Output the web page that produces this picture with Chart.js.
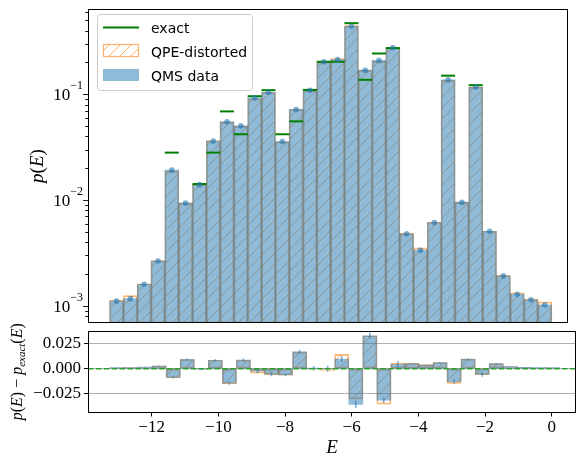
<!DOCTYPE html>
<html>
<head>
<meta charset="utf-8">
<script src="https://cdn.jsdelivr.net/npm/chart.js@4.4.1/dist/chart.umd.min.js"></script>
<style>
    body { margin: 0; background: #fff; }
    #cadre { position: relative; width: 577px; height: 460px; }
    #haut { position: absolute; left: 0; top: 0; }
    #bas { position: absolute; left: 0; top: 300px; }
</style>
</head>
<body>
<div id="cadre">
    <canvas id="haut" width="577" height="332"></canvas>
    <canvas id="bas" width="577" height="160"></canvas>
</div>
<script>
// centres des bins en E
const centres = [-13.039, -12.618, -12.197, -11.775, -11.354, -10.933, -10.511, -10.090,
    -9.669, -9.247, -8.826, -8.404, -7.983, -7.562, -7.140, -6.719,
    -6.298, -5.876, -5.455, -5.034, -4.612, -4.191, -3.770, -3.348,
    -2.927, -2.506, -2.084, -1.663, -1.241, -0.820, -0.399, 0.023];

const pQms = [0.00111, 0.00117, 0.00160, 0.00265, 0.0192, 0.0094, 0.0140, 0.0361,
    0.0551, 0.0503, 0.0925, 0.1043, 0.0357, 0.0719, 0.1090, 0.203,
    0.213, 0.439, 0.169, 0.209, 0.277, 0.00480, 0.00336, 0.00614,
    0.137, 0.00955, 0.117, 0.00508, 0.00192, 0.00129, 0.00114, 0.00102];

const pQpe = [0.00113, 0.00125, 0.00162, 0.00268, 0.0188, 0.0093, 0.0141, 0.0365,
    0.0543, 0.0501, 0.0905, 0.1038, 0.0355, 0.0717, 0.1085, 0.2013,
    0.218, 0.445, 0.169, 0.205, 0.278, 0.00485, 0.00353, 0.0062,
    0.1355, 0.0095, 0.1167, 0.00508, 0.00194, 0.00133, 0.00116, 0.00109];

const pExact = [null, null, null, null, 0.0281, null, 0.0142, 0.0281,
    0.0689, 0.0419, 0.0959, 0.1094, 0.0419, 0.0555, 0.110, 0.203,
    0.203, 0.470, 0.137, 0.243, 0.273, null, null, null,
    0.150, null, 0.122, null, null, null, null, null];

const diffQms = [0.0011, 0.0012, 0.0016, 0.0027, -0.0087, 0.0093, -0.0003, 0.0083,
    -0.0145, 0.0087, -0.0025, -0.0055, -0.0063, 0.0170, 0.0003, 0.0000,
    0.0097, -0.0360, 0.0330, -0.0317, 0.0043, 0.0050, 0.0035, 0.0060,
    -0.0130, 0.0095, -0.0057, 0.0050, 0.0020, 0.0013, 0.0012, 0.0010];

const diffQpe = [0.0012, 0.0013, 0.0017, 0.0028, -0.0093, 0.0092, -0.0002, 0.0087,
    -0.0153, 0.0085, -0.0045, -0.0060, -0.0065, 0.0168, -0.0008, -0.0017,
    0.0143, -0.0303, 0.0330, -0.0357, 0.0057, 0.0053, 0.0040, 0.0062,
    -0.0147, 0.0095, -0.0060, 0.0050, 0.0022, 0.0014, 0.0012, 0.0011];

const erreurs = [0.0002, 0.0002, 0.0003, 0.0004, 0.0010, 0.0008, 0.0009, 0.0013,
    0.0016, 0.0015, 0.0021, 0.0022, 0.0013, 0.0019, 0.0022, 0.0030,
    0.0030, 0.0035, 0.0027, 0.0030, 0.0034, 0.0005, 0.0004, 0.0006,
    0.0025, 0.0007, 0.0023, 0.0005, 0.0003, 0.0002, 0.0002, 0.0002];

const ticksX = [-12, -10, -8, -6, -4, -2, 0];
const ticksDiff = [-0.025, 0, 0.025];

const xMin = -13.91;
const xMax = 0.73;

const SERIF = "'Liberation Serif', 'DejaVu Serif', serif";
const BLEU = 'rgba(31,119,180,0.5)';
const ORANGE = 'rgba(255,127,14,0.6)';

function creerHachures(ctxCible) {
    const taille = 11;
    const c = document.createElement('canvas');
    c.width = taille;
    c.height = taille;
    const ctx = c.getContext('2d');
    ctx.strokeStyle = ORANGE;
    ctx.lineWidth = 1;
    ctx.beginPath();
    ctx.moveTo(0, taille);
    ctx.lineTo(taille, 0);
    ctx.moveTo(-2, 2);
    ctx.lineTo(2, -2);
    ctx.moveTo(taille - 2, taille + 2);
    ctx.lineTo(taille + 2, taille - 2);
    ctx.stroke();
    return ctxCible.createPattern(c, 'repeat');
}

// texte "math" : morceaux [texte, italique, taille, decalage]
function ecrireMath(ctx, morceaux, x, y, angle) {
    const police = (m) => (m[1] ? 'italic ' : '') + m[2] + 'px ' + SERIF;
    ctx.save();
    ctx.translate(x, y);
    ctx.rotate(angle);
    let total = 0;
    for (const m of morceaux) {
        ctx.font = police(m);
        total += ctx.measureText(m[0]).width;
    }
    let cx = -total / 2;
    ctx.fillStyle = '#000';
    ctx.textAlign = 'left';
    ctx.textBaseline = 'alphabetic';
    for (const m of morceaux) {
        ctx.font = police(m);
        ctx.fillText(m[0], cx, m[3]);
        cx += ctx.measureText(m[0]).width;
    }
    ctx.restore();
}

const cadrePlugin = {
    id: 'cadre',
    afterDraw(chart) {
        const { ctx, chartArea } = chart;
        ctx.save();
        ctx.strokeStyle = '#000';
        ctx.lineWidth = 1;
        const l = Math.round(chartArea.left) + 0.5;
        const t = Math.round(chartArea.top) + 0.5;
        const r = Math.round(chartArea.right) - 0.5;
        const b = Math.round(chartArea.bottom) - 0.5;
        ctx.strokeRect(l, t, r - l, b - t);
        ctx.restore();
    },
};

const axeLogPlugin = {
    id: 'axeLog',
    afterDraw(chart) {
        const { ctx, chartArea, scales } = chart;
        const y = scales.y;
        ctx.save();
        ctx.strokeStyle = '#000';
        ctx.lineWidth = 0.9;
        for (const t of y.ticks) {
            const v = t.value;
            const e = Math.floor(Math.log10(v) + 1e-9);
            const s = v / Math.pow(10, e);
            if (Math.abs(s - Math.round(s)) > 0.01) continue;
            const py = y.getPixelForValue(v);
            if (py < chartArea.top - 0.5 || py > chartArea.bottom + 0.5) continue;
            const majeur = Math.round(s) === 1;
            const long = majeur ? 4.9 : 2.8;
            ctx.beginPath();
            ctx.moveTo(chartArea.left - long, Math.round(py) + 0.5);
            ctx.lineTo(chartArea.left, Math.round(py) + 0.5);
            ctx.stroke();
            if (majeur) {
                const exp = '\u2212' + Math.abs(e);
                ctx.fillStyle = '#000';
                ctx.textBaseline = 'alphabetic';
                ctx.font = '12px ' + SERIF;
                const wExp = ctx.measureText(exp).width;
                ctx.font = '17px ' + SERIF;
                const wBase = ctx.measureText('10').width;
                const droite = chartArea.left - 5;
                ctx.fillText('10', droite - wExp - wBase, py + 6);
                ctx.font = '12px ' + SERIF;
                ctx.fillText(exp, droite - wExp, py - 5);
            }
        }
        ecrireMath(ctx, [['p', true, 19, 0], ['(', false, 19, 0], ['E', true, 19, 0], [')', false, 19, 0]],
            43, (chartArea.top + chartArea.bottom) / 2, -Math.PI / 2);
        ctx.restore();
    },
};

function legendePlugin(motif) {
    return {
        id: 'legende',
        afterDraw(chart) {
            const { ctx } = chart;
            ctx.save();
            ctx.beginPath();
            ctx.roundRect(97.5, 14.5, 155, 76, 3);
            ctx.fillStyle = 'rgba(255,255,255,0.8)';
            ctx.fill();
            ctx.strokeStyle = '#cccccc';
            ctx.lineWidth = 1;
            ctx.stroke();

            ctx.strokeStyle = '#008000';
            ctx.lineWidth = 2;
            ctx.beginPath();
            ctx.moveTo(103, 27.5);
            ctx.lineTo(139, 27.5);
            ctx.stroke();

            ctx.fillStyle = '#fff';
            ctx.fillRect(103.5, 44.5, 35, 12);
            ctx.fillStyle = motif;
            ctx.fillRect(103.5, 44.5, 35, 12);
            ctx.strokeStyle = ORANGE;
            ctx.lineWidth = 1.2;
            ctx.strokeRect(103.5, 44.5, 35, 12);

            ctx.fillStyle = BLEU;
            ctx.fillRect(103, 69, 36, 12);

            ctx.fillStyle = '#000';
            ctx.font = "14px 'DejaVu Sans', sans-serif";
            ctx.textBaseline = 'alphabetic';
            ctx.fillText('exact', 151, 33);
            ctx.fillText('QPE-distorted', 151, 56.5);
            ctx.fillText('QMS data', 151, 80.5);
            ctx.restore();
        },
    };
}

const barresCommunes = {
    grouped: false,
    barPercentage: 1,
    categoryPercentage: 1,
    borderSkipped: false,
};

// ---- panneau du haut : p(E) en log ----
const ctxHaut = document.querySelector('#haut').getContext('2d');
const motifHaut = creerHachures(ctxHaut);

new Chart(ctxHaut, {
    type: 'bar',
    data: {
        datasets: [
            {
                type: 'line',
                label: 'points',
                data: centres.map((x, i) => ({ x: x, y: pQms[i] })),
                showLine: false,
                pointRadius: 2.8,
                pointBackgroundColor: 'rgba(31,119,180,0.6)',
                pointBorderWidth: 0,
                order: 0,
            },
            {
                type: 'line',
                label: 'exact',
                data: centres
                    .map((x, i) => ({ x: x, y: pExact[i] }))
                    .filter((p) => p.y !== null),
                showLine: false,
                pointStyle: 'line',
                pointRadius: 7,
                borderColor: '#008000',
                pointBorderColor: '#008000',
                pointBorderWidth: 2,
                order: 1,
            },
            {
                label: 'QMS data',
                data: centres.map((x, i) => ({ x: x, y: pQms[i] })),
                backgroundColor: BLEU,
                borderWidth: 0,
                order: 2,
                ...barresCommunes,
            },
            {
                label: 'QPE-distorted',
                data: centres.map((x, i) => ({ x: x, y: pQpe[i] })),
                backgroundColor: motifHaut,
                borderColor: ORANGE,
                borderWidth: 1,
                order: 3,
                ...barresCommunes,
            },
        ],
    },
    options: {
        responsive: false,
        animation: false,
        events: [],
        layout: { padding: { left: 0, right: 1, top: 6, bottom: 1 } },
        plugins: { legend: { display: false }, tooltip: { enabled: false } },
        scales: {
            x: { type: 'linear', display: false, min: xMin, max: xMax, offset: false },
            y: {
                type: 'logarithmic',
                min: 6.89e-4,
                max: 0.64,
                ticks: { display: false, autoSkip: false },
                grid: { display: false },
                border: { display: false },
                afterFit: (scale) => { scale.width = 88; },
            },
        },
    },
    plugins: [cadrePlugin, axeLogPlugin, legendePlugin(motifHaut)],
});

// ---- panneau du bas : p(E) - p_exact(E) ----
const ctxBas = document.querySelector('#bas').getContext('2d');
const motifBas = creerHachures(ctxBas);

const basPlugin = {
    id: 'bas',
    afterDatasetsDraw(chart) {
        const { ctx, chartArea, scales } = chart;
        ctx.save();
        ctx.strokeStyle = 'rgba(31,119,180,0.6)';
        ctx.lineWidth = 1.5;
        for (let i = 0; i < centres.length; i++) {
            const px = scales.x.getPixelForValue(centres[i]);
            ctx.beginPath();
            ctx.moveTo(px, scales.y.getPixelForValue(diffQms[i] - erreurs[i]));
            ctx.lineTo(px, scales.y.getPixelForValue(diffQms[i] + erreurs[i]));
            ctx.stroke();
        }
        const y0 = scales.y.getPixelForValue(0);
        ctx.strokeStyle = '#2ca02c';
        ctx.lineWidth = 1.5;
        ctx.setLineDash([5.5, 2.4]);
        ctx.beginPath();
        ctx.moveTo(chartArea.left, y0);
        ctx.lineTo(chartArea.right, y0);
        ctx.stroke();
        ctx.restore();
    },
    afterDraw(chart) {
        const { ctx, chartArea } = chart;
        ecrireMath(ctx, [
            ['p', true, 16, 0], ['(', false, 16, 0], ['E', true, 16, 0], [')', false, 16, 0],
            [' \u2212 ', false, 16, 0], ['p', true, 16, 0], ['exact', true, 11, 3],
            ['(', false, 16, 0], ['E', true, 16, 0], [')', false, 16, 0],
        ], 22, (chartArea.top + chartArea.bottom) / 2, -Math.PI / 2);
        ecrireMath(ctx, [['E', true, 19, 0]], (chartArea.left + chartArea.right) / 2, 153, 0);
    },
};

const formatMoins = (v, d) => (v < 0 ? '\u2212' : '') + Math.abs(v).toFixed(d);

new Chart(ctxBas, {
    type: 'bar',
    data: {
        datasets: [
            {
                label: 'QMS data',
                data: centres.map((x, i) => ({ x: x, y: diffQms[i] })),
                backgroundColor: BLEU,
                borderWidth: 0,
                order: 2,
                ...barresCommunes,
            },
            {
                label: 'QPE-distorted',
                data: centres.map((x, i) => ({ x: x, y: diffQpe[i] })),
                backgroundColor: motifBas,
                borderColor: ORANGE,
                borderWidth: 1,
                order: 3,
                ...barresCommunes,
            },
        ],
    },
    options: {
        responsive: false,
        animation: false,
        events: [],
        layout: { padding: { left: 0, right: 1, top: 31, bottom: 0 } },
        plugins: { legend: { display: false }, tooltip: { enabled: false } },
        scales: {
            x: {
                type: 'linear',
                min: xMin,
                max: xMax,
                offset: false,
                afterBuildTicks: (scale) => { scale.ticks = ticksX.map((v) => ({ value: v })); },
                afterFit: (scale) => { scale.height = 47.5; },
                ticks: {
                    color: '#000',
                    font: { family: SERIF, size: 17 },
                    padding: 1,
                    maxRotation: 0,
                    callback: (v) => formatMoins(v, 0),
                },
                grid: { drawOnChartArea: false, offset: false, tickLength: 4, tickColor: '#000' },
                border: { display: false },
            },
            y: {
                min: -0.044,
                max: 0.0378,
                afterBuildTicks: (scale) => { scale.ticks = ticksDiff.map((v) => ({ value: v })); },
                afterFit: (scale) => { scale.width = 88; },
                ticks: {
                    color: '#000',
                    font: { family: SERIF, size: 17 },
                    padding: 3,
                    callback: (v) => formatMoins(v, 3),
                },
                grid: { color: '#b0b0b0', lineWidth: 1, tickLength: 4, tickColor: '#000' },
                border: { display: false },
            },
        },
    },
    plugins: [cadrePlugin, basPlugin],
});
</script>
</body>
</html>
